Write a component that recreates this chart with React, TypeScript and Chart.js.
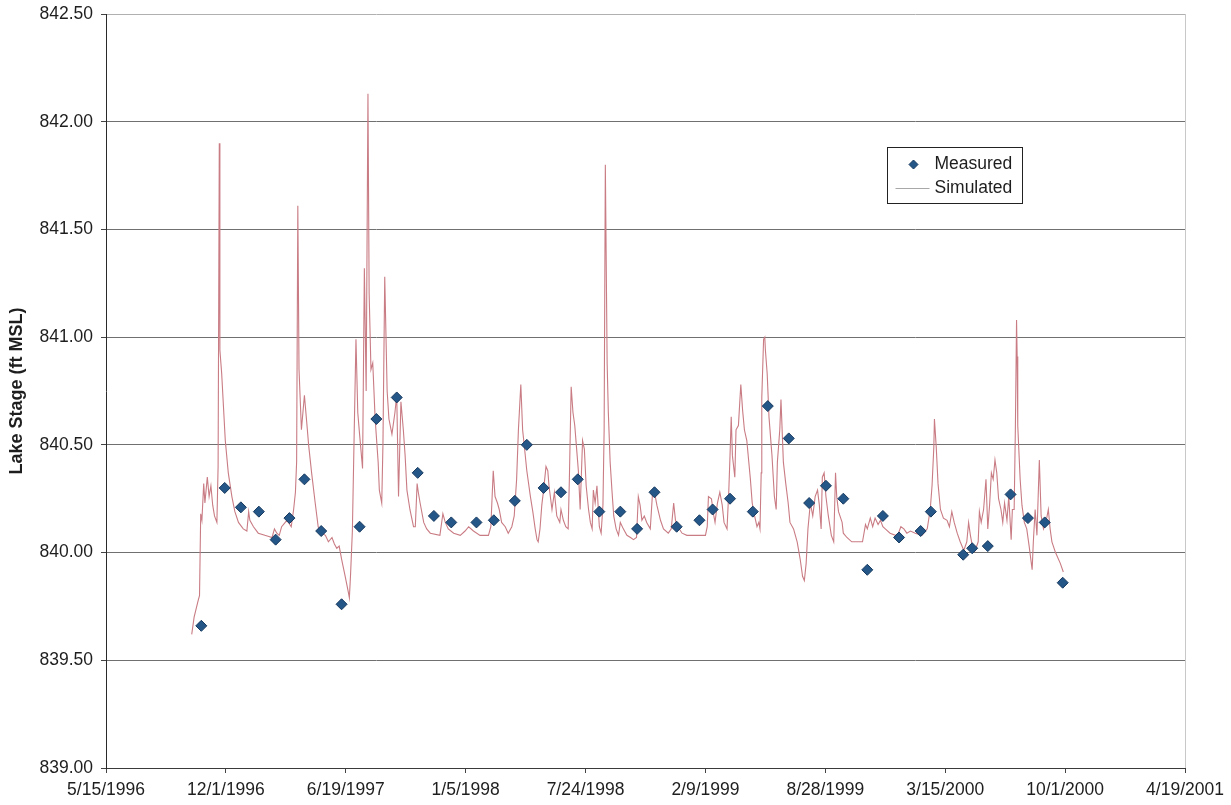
import React, { useEffect, useRef } from "react";
import { Chart, registerables } from "chart.js";

Chart.register(...registerables);

// Excel serial day numbers (5/15/1996 = 35200), axis every 200 days
const xAxisMin = 35200;
const xAxisMax = 37000;
const xAxisStep = 200;
const yAxisMin = 839.0;
const yAxisMax = 842.5;
const yAxisStep = 0.5;

const yTitle = "Lake Stage (ft MSL)";
const measuredLabel = "Measured";
const simulatedLabel = "Simulated";

const measuredDates = [
  35359, 35398, 35425, 35455, 35483, 35506, 35531, 35559, 35593, 35623,
  35651, 35685, 35720, 35747, 35776, 35818, 35847, 35882, 35902, 35930,
  35959, 35987, 36023, 36058, 36086, 36115, 36152, 36190, 36212, 36241,
  36279, 36304, 36339, 36373, 36401, 36430, 36470, 36496, 36523, 36559,
  36576, 36630, 36645, 36671, 36709, 36738, 36766, 36796,
];
const measuredStage = [
  839.66, 840.30, 840.21, 840.19, 840.06, 840.16, 840.34, 840.10, 839.76, 840.12,
  840.62, 840.72, 840.37, 840.17, 840.14, 840.14, 840.15, 840.24, 840.50, 840.30,
  840.28, 840.34, 840.19, 840.19, 840.11, 840.28, 840.12, 840.15, 840.20, 840.25,
  840.19, 840.68, 840.53, 840.23, 840.31, 840.25, 839.92, 840.17, 840.07, 840.10,
  840.19, 839.99, 840.02, 840.03, 840.27, 840.16, 840.14, 839.86,
];

const simDates = [
  35343, 35347, 35354, 35356, 35358, 35360, 35363, 35365, 35369, 35372,
  35375, 35378, 35381, 35385, 35387, 35389, 35390, 35393, 35399, 35404,
  35410, 35415, 35421, 35429, 35435, 35438, 35440, 35446, 35454, 35465,
  35477, 35481, 35485, 35489, 35493, 35499, 35502, 35509, 35513, 35516,
  35518, 35520, 35522, 35526, 35531, 35535, 35538, 35543, 35549, 35554,
  35560, 35566, 35571, 35577, 35581, 35585, 35589, 35593, 35599, 35604,
  35606, 35608, 35611, 35614, 35617, 35620, 35623, 35628, 35631, 35634,
  35637, 35639, 35642, 35645, 35649, 35654, 35656, 35660, 35662, 35665,
  35669, 35672, 35677, 35682, 35685, 35688, 35692, 35696, 35699, 35702,
  35707, 35713, 35716, 35719, 35721, 35724, 35730, 35735, 35741, 35757,
  35762, 35766, 35771, 35780, 35791, 35799, 35805, 35813, 35824, 35838,
  35842, 35846, 35849, 35853, 35856, 35860, 35866, 35871, 35877, 35881,
  35885, 35888, 35892, 35895, 35898, 35902, 35908, 35912, 35916, 35919,
  35921, 35924, 35927, 35930, 35934, 35937, 35939, 35944, 35948, 35952,
  35957, 35959, 35963, 35967, 35971, 35973, 35976, 35979, 35982, 35986,
  35988, 35991, 35995, 35998, 36001, 36005, 36008, 36011, 36013, 36016,
  36019, 36023, 36026, 36029, 36031, 36033, 36036, 36038, 36041, 36044,
  36047, 36051, 36055, 36058, 36063, 36069, 36075, 36080, 36085, 36088,
  36091, 36094, 36098, 36102, 36108, 36112, 36115, 36119, 36125, 36130,
  36138, 36143, 36147, 36150, 36154, 36161, 36169, 36200, 36203, 36205,
  36210, 36214, 36216, 36220, 36224, 36228, 36231, 36236, 36239, 36241,
  36243, 36245, 36249, 36251, 36255, 36259, 36262, 36265, 36269, 36272,
  36275, 36278, 36282, 36286, 36289, 36291, 36293, 36294, 36297, 36299,
  36300, 36303, 36306, 36311, 36315, 36318, 36320, 36324, 36326, 36330,
  36334, 36338, 36341, 36347, 36353, 36358, 36362, 36365, 36368, 36371,
  36375, 36379, 36383, 36387, 36390, 36393, 36395, 36398, 36401, 36405,
  36410, 36414, 36417, 36419, 36422, 36428, 36430, 36436, 36444, 36455,
  36462, 36467, 36470, 36475, 36479, 36483, 36488, 36492, 36496, 36500,
  36508, 36517, 36522, 36526, 36531, 36536, 36542, 36550, 36561, 36570,
  36575, 36578, 36581, 36582, 36585, 36588, 36592, 36597, 36603, 36607,
  36611, 36615, 36620, 36625, 36631, 36636, 36639, 36642, 36646, 36650,
  36655, 36657, 36660, 36664, 36668, 36671, 36674, 36677, 36680, 36683,
  36686, 36689, 36693, 36696, 36699, 36703, 36706, 36710, 36712, 36715,
  36717, 36719, 36720, 36721, 36725, 36728, 36732, 36736, 36740, 36745,
  36747, 36750, 36753, 36757, 36760, 36764, 36768, 36772, 36775, 36778,
  36784, 36792, 36797,
];
const simStage = [
  839.62, 839.70, 839.78, 839.80, 840.18, 840.15, 840.32, 840.23, 840.35, 840.26,
  840.31, 840.22, 840.17, 840.14, 840.40, 841.90, 840.94, 840.83, 840.52, 840.37,
  840.26, 840.19, 840.14, 840.11, 840.10, 840.19, 840.15, 840.12, 840.09, 840.08,
  840.07, 840.11, 840.09, 840.08, 840.12, 840.14, 840.15, 840.12, 840.20, 840.28,
  840.42, 841.61, 840.85, 840.57, 840.73, 840.60, 840.50, 840.37, 840.23, 840.12,
  840.09, 840.08, 840.05, 840.07, 840.04, 840.02, 840.03, 839.97, 839.89, 839.82,
  839.79, 839.90, 840.10, 840.55, 840.99, 840.65, 840.55, 840.39, 841.32, 840.75,
  842.13, 841.20, 840.85, 840.88, 840.62, 840.42, 840.29, 840.23, 840.50, 841.28,
  840.75, 840.62, 840.55, 840.65, 840.73, 840.26, 840.70, 840.57, 840.45, 840.29,
  840.20, 840.12, 840.12, 840.32, 840.28, 840.23, 840.14, 840.11, 840.09, 840.08,
  840.18, 840.14, 840.11, 840.09, 840.08, 840.10, 840.12, 840.10, 840.08, 840.08,
  840.12, 840.38, 840.26, 840.23, 840.20, 840.14, 840.12, 840.09, 840.12, 840.17,
  840.34, 840.57, 840.78, 840.57, 840.49, 840.38, 840.26, 840.19, 840.11, 840.06,
  840.05, 840.11, 840.22, 840.29, 840.40, 840.38, 840.31, 840.20, 840.28, 840.17,
  840.14, 840.20, 840.15, 840.12, 840.11, 840.34, 840.77, 840.65, 840.59, 840.45,
  840.38, 840.20, 840.52, 840.48, 840.31, 840.20, 840.14, 840.11, 840.29, 840.23,
  840.31, 840.12, 840.09, 840.22, 840.57, 841.80, 840.88, 840.65, 840.42, 840.29,
  840.17, 840.11, 840.08, 840.14, 840.11, 840.08, 840.07, 840.06, 840.07, 840.26,
  840.22, 840.15, 840.17, 840.14, 840.11, 840.29, 840.28, 840.22, 840.15, 840.11,
  840.09, 840.11, 840.23, 840.15, 840.12, 840.09, 840.08, 840.08, 840.12, 840.26,
  840.25, 840.17, 840.14, 840.23, 840.28, 840.22, 840.14, 840.11, 840.29, 840.45,
  840.63, 840.45, 840.35, 840.57, 840.59, 840.78, 840.66, 840.57, 840.52, 840.43,
  840.34, 840.23, 840.17, 840.12, 840.14, 840.11, 840.37, 840.72, 840.99, 841.00,
  840.94, 840.83, 840.63, 840.45, 840.26, 840.20, 840.42, 840.57, 840.71, 840.42,
  840.32, 840.23, 840.14, 840.11, 840.05, 839.97, 839.89, 839.87, 839.95, 840.11,
  840.23, 840.17, 840.26, 840.29, 840.22, 840.11, 840.35, 840.37, 840.26, 840.17,
  840.08, 840.05, 840.37, 840.26, 840.19, 840.14, 840.09, 840.07, 840.05, 840.05,
  840.05, 840.13, 840.11, 840.16, 840.12, 840.16, 840.13, 840.15, 840.12, 840.11,
  840.09, 840.08, 840.09, 840.12, 840.11, 840.09, 840.10, 840.09, 840.08, 840.11,
  840.20, 840.31, 840.49, 840.62, 840.49, 840.32, 840.20, 840.16, 840.15, 840.12,
  840.19, 840.14, 840.09, 840.05, 840.01, 840.05, 840.14, 840.08, 840.02, 840.01,
  840.05, 840.19, 840.14, 840.20, 840.34, 840.11, 840.22, 840.37, 840.34, 840.43,
  840.37, 840.25, 840.20, 840.14, 840.23, 840.15, 840.26, 840.06, 840.20, 840.20,
  840.57, 841.08, 840.91, 840.59, 840.34, 840.22, 840.14, 840.11, 840.03, 839.92,
  840.05, 840.20, 840.08, 840.43, 840.17, 840.11, 840.14, 840.20, 840.11, 840.05,
  840.00, 839.95, 839.91,
];

const FONT = "'Liberation Sans', Arial, sans-serif";
const TEXT_COLOR = "#1e1e1e";
const LINE_COLOR = "#c97c84";
const MARKER_FILL = "#245688";
const MARKER_EDGE = "#17395e";

function serialToLabel(serial: number): string {
  const d = new Date(Date.UTC(1899, 11, 30) + serial * 86400000);
  return `${d.getUTCMonth() + 1}/${d.getUTCDate()}/${d.getUTCFullYear()}`;
}

const framePlugin = {
  id: "frameAndLegend",
  afterDraw(chart: any) {
    const { ctx, chartArea } = chart;
    ctx.save();
    // faint right border of the plot area
    ctx.strokeStyle = "#c8c8c8";
    ctx.lineWidth = 1;
    ctx.beginPath();
    ctx.moveTo(Math.round(chartArea.right) + 0.5, chartArea.top);
    ctx.lineTo(Math.round(chartArea.right) + 0.5, chartArea.bottom);
    ctx.stroke();

    // legend box
    const x0 = Math.round(chartArea.right - 298) + 0.5;
    const y0 = Math.round(chartArea.top + 133) + 0.5;
    const w = 135;
    const h = 56;
    ctx.fillStyle = "#ffffff";
    ctx.fillRect(x0, y0, w, h);
    ctx.strokeStyle = "#222222";
    ctx.lineWidth = 1;
    ctx.strokeRect(x0, y0, w, h);

    // measured marker
    const mx = x0 + 26;
    const my = y0 + 17;
    const r = 4.5;
    ctx.beginPath();
    ctx.moveTo(mx, my - r);
    ctx.lineTo(mx + r, my);
    ctx.lineTo(mx, my + r);
    ctx.lineTo(mx - r, my);
    ctx.closePath();
    ctx.fillStyle = MARKER_FILL;
    ctx.fill();
    ctx.strokeStyle = MARKER_EDGE;
    ctx.stroke();

    // simulated line sample
    const ly = y0 + 41;
    ctx.strokeStyle = "#a8a8a8";
    ctx.beginPath();
    ctx.moveTo(x0 + 8, ly);
    ctx.lineTo(x0 + 42, ly);
    ctx.stroke();

    ctx.fillStyle = TEXT_COLOR;
    ctx.font = `17.5px ${FONT}`;
    ctx.textAlign = "left";
    ctx.textBaseline = "middle";
    ctx.fillText(measuredLabel, x0 + 47, my);
    ctx.fillText(simulatedLabel, x0 + 47, ly);
    ctx.restore();
  },
};

export default function App() {
  const canvasRef = useRef<HTMLCanvasElement | null>(null);

  useEffect(() => {
    const canvas = canvasRef.current;
    if (!canvas) return;

    const simData = simDates.map((d, i) => ({ x: d, y: simStage[i] }));
    const measData = measuredDates.map((d, i) => ({ x: d, y: measuredStage[i] }));

    const chart = new Chart(canvas, {
      type: "line",
      data: {
        datasets: [
          {
            label: measuredLabel,
            data: measData,
            showLine: false,
            pointStyle: "rectRot",
            pointRadius: 5.5,
            pointBackgroundColor: MARKER_FILL,
            pointBorderColor: MARKER_EDGE,
            pointBorderWidth: 1,
            order: 0,
          },
          {
            label: simulatedLabel,
            data: simData,
            borderColor: LINE_COLOR,
            borderWidth: 1.1,
            pointRadius: 0,
            tension: 0,
            fill: false,
            order: 1,
          },
        ],
      },
      options: {
        responsive: false,
        animation: false,
        events: [],
        layout: { padding: { left: 0, top: 14, right: 46, bottom: 0 } },
        plugins: {
          legend: { display: false },
          tooltip: { enabled: false },
          title: { display: false },
        },
        scales: {
          x: {
            type: "linear",
            min: xAxisMin,
            max: xAxisMax,
            afterFit: (scale: any) => {
              scale.height = 37;
            },
            ticks: {
              stepSize: xAxisStep,
              autoSkip: false,
              maxRotation: 0,
              minRotation: 0,
              padding: 7,
              color: TEXT_COLOR,
              font: { family: FONT, size: 17.5 },
              callback: (v: any) => serialToLabel(Number(v)),
            },
            grid: {
              drawOnChartArea: false,
              drawTicks: true,
              tickLength: 5,
              tickColor: "#444444",
            },
            border: { display: true, color: "#3a3a3a", width: 1 },
          },
          y: {
            type: "linear",
            min: yAxisMin,
            max: yAxisMax,
            afterFit: (scale: any) => {
              scale.width = 106;
              scale.paddingTop = 0;
              scale.paddingBottom = 0;
            },
            ticks: {
              stepSize: yAxisStep,
              padding: 8,
              color: TEXT_COLOR,
              font: { family: FONT, size: 17.5 },
              callback: (v: any) => Number(v).toFixed(2),
            },
            grid: {
              drawOnChartArea: true,
              drawTicks: true,
              tickLength: 5,
              color: (c: any) => (c.tick && c.tick.value === yAxisMax ? "#b0b0b0" : "#707070"),
              tickColor: "#444444",
              lineWidth: 1,
            },
            border: { display: true, color: "#2a2a2a", width: 1 },
            title: {
              display: true,
              text: yTitle,
              color: TEXT_COLOR,
              font: { family: FONT, size: 18, weight: "bold" },
              padding: { top: 6, bottom: 0 },
            },
          },
        },
      },
      plugins: [framePlugin],
    });

    return () => {
      chart.destroy();
    };
  }, []);

  return (
    <div style={{ position: "absolute", left: 0, top: 0, width: 1231, height: 805, background: "#ffffff" }}>
      <canvas ref={canvasRef} width={1231} height={805} style={{ display: "block" }} />
    </div>
  );
}
